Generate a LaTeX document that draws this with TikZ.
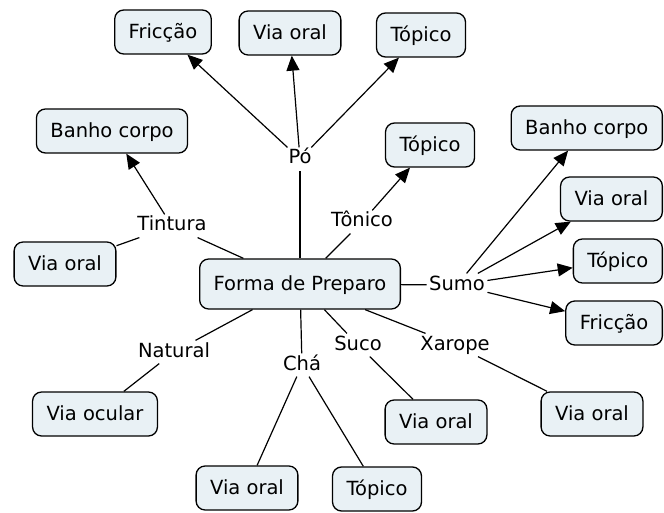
\documentclass[tikz,border=0pt]{standalone}
\usepackage{fontspec}
\setmainfont{DejaVu Sans}
\usetikzlibrary{arrows.meta}
\definecolor{boxfill}{RGB}{233,241,245}

\begin{document}
\begin{tikzpicture}[x=1pt, y=-1pt, line width=1.2pt]
        \tikzstyle{concept}=[draw, line width=1.3pt, fill=boxfill, rounded corners=9pt, inner xsep=14pt, minimum height=44pt, text height=14pt, text depth=1pt, font=\fontsize{19.5}{23}\selectfont]
        \tikzstyle{link}=[inner sep=2pt, text height=14pt, text depth=4pt, font=\fontsize{19.5}{23}\selectfont]
        \tikzstyle{pointer}=[-{Triangle[length=15pt,width=13pt]}]

        \useasboundingbox (0,0) rectangle (664,513);

% Concept map of the ways of preparing the plant, linking words between the boxes.

        \node[concept, minimum height=50pt] (forma) at (300,284) {Forma de Preparo};

        \node[link] (po) at (300,159) {Pó};
        \node[link] (tintura) at (172,226) {Tintura};
        \node[link] (tonico) at (362,222) {Tônico};
        \node[link] (sumo) at (457,285) {Sumo};
        \node[link] (natural) at (174,352) {Natural};
        \node[link] (cha) at (302,365) {Chá};
        \node[link] (suco) at (358,345) {Suco};
        \node[link] (xarope) at (455,345) {Xarope};

        \node[concept] (frictop) at (163,32) {Fricção};
        \node[concept] (oraltop) at (290,33) {Via oral};
        \node[concept] (topitop) at (421,35) {Tópico};
        \node[concept] (banholeft) at (112,131) {Banho corpo};
        \node[concept] (oralleft) at (65,264) {Via oral};
        \node[concept] (topitonico) at (430,145) {Tópico};
        \node[concept, anchor=east] (banhoright) at (663,128) {Banho corpo};
        \node[concept, anchor=east] (oralright) at (663,199) {Via oral};
        \node[concept, anchor=east] (topiright) at (663,261) {Tópico};
        \node[concept, anchor=east] (fricright) at (663,323) {Fricção};
        \node[concept] (ocular) at (95,414) {Via ocular};
        \node[concept] (oralcha) at (247,488) {Via oral};
        \node[concept] (topicha) at (377,489) {Tópico};
        \node[concept] (oralsuco) at (436,422) {Via oral};
        \node[concept] (oralxarope) at (592,414) {Via oral};

        \foreach \l in {po,tintura,tonico,sumo,natural,cha,suco,xarope}
            \draw (forma) -- (\l);

        \draw[pointer] (po) -- (frictop);
        \draw[pointer] (po) -- (oraltop);
        \draw[pointer] (po) -- (topitop);
        \draw[pointer] (tintura) -- (banholeft);
        \draw (tintura) -- (oralleft);
        \draw[pointer] (tonico) -- (topitonico);
        \draw[pointer] (sumo) -- (banhoright);
        \draw[pointer] (sumo) -- (oralright);
        \draw[pointer] (sumo) -- (topiright);
        \draw[pointer] (sumo) -- (fricright);
        \draw (natural) -- (ocular);
        \draw (cha) -- (oralcha);
        \draw (cha) -- (topicha);
        \draw (suco) -- (oralsuco);
        \draw (xarope) -- (oralxarope);

    \end{tikzpicture}
\end{document}
